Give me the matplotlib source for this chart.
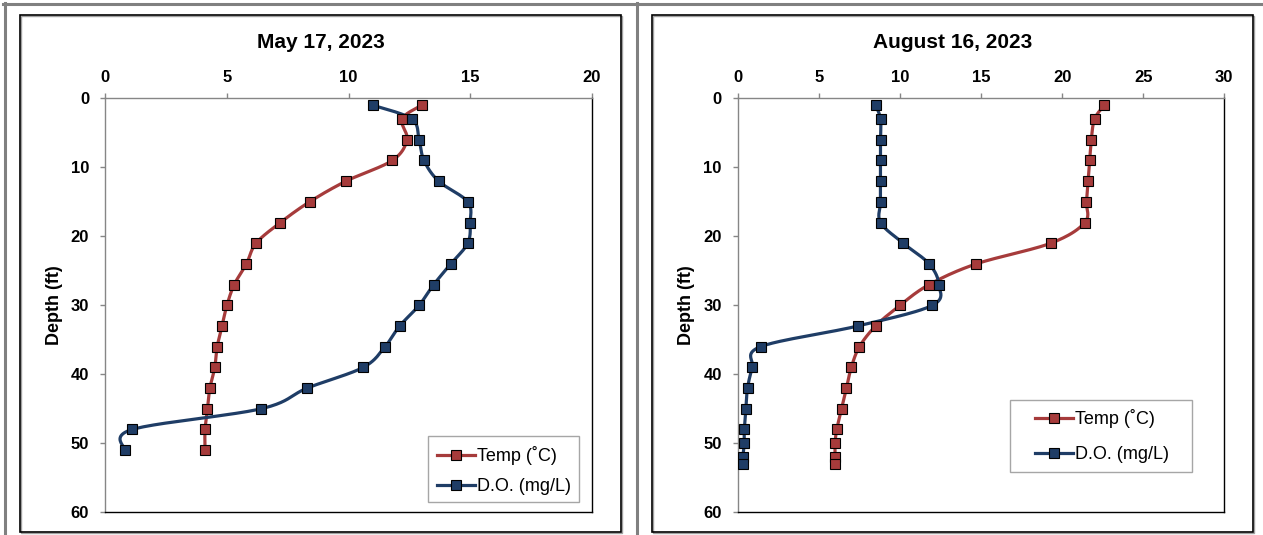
import numpy as np
import matplotlib
matplotlib.use("Agg")
import matplotlib.pyplot as plt
from matplotlib.patches import Rectangle
from matplotlib.lines import Line2D

plt.rcParams['font.family'] = ['Liberation Sans', 'DejaVu Sans']

# ---- profile data -------------------------------------------------------
may_depth = [1, 3, 6, 9, 12, 15, 18, 21, 24, 27, 30, 33, 36, 39, 42, 45, 48, 51]
may_temp = [13.0, 12.2, 12.4, 11.8, 9.9, 8.4, 7.2, 6.2, 5.8, 5.3, 5.0, 4.8, 4.6,
            4.5, 4.3, 4.2, 4.1, 4.1]
may_do = [11.0, 12.6, 12.9, 13.1, 13.7, 14.9, 15.0, 14.9, 14.2, 13.5, 12.9, 12.1,
          11.5, 10.6, 8.3, 6.4, 1.1, 0.8]

aug_depth = [1, 3, 6, 9, 12, 15, 18, 21, 24, 27, 30, 33, 36, 39, 42, 45, 48, 50, 52, 53]
aug_temp = [22.6, 22.0, 21.8, 21.7, 21.6, 21.5, 21.4, 19.3, 14.7, 11.8, 10.0, 8.5,
            7.5, 7.0, 6.7, 6.4, 6.1, 6.0, 6.0, 6.0]
aug_do = [8.5, 8.8, 8.8, 8.8, 8.8, 8.8, 8.8, 10.2, 11.8, 12.4, 12.0, 7.4, 1.4, 0.9,
          0.6, 0.5, 0.4, 0.4, 0.3, 0.3]

may_ticks = [0, 5, 10, 15, 20]
aug_ticks = [0, 5, 10, 15, 20, 25, 30]
depth_ticks = [0, 10, 20, 30, 40, 50, 60]

TEMP_COLOR = '#A63B3B'
DO_COLOR = '#1F3D66'
AXIS_GRAY = '#868686'

W, H = 1263, 535
fig = plt.figure(figsize=(W / 100, H / 100), dpi=100)


def px(x, y):
    """Pixel position (from top-left) to figure fraction."""
    return x / W, 1 - y / H


def smooth_curve(xs, ys, sx, sy, n=24):
    """Bezier smoothing through the points, computed in screen-like units."""
    p = np.column_stack([np.asarray(xs, float) * sx, np.asarray(ys, float) * sy])
    ext = np.vstack([p[0], p, p[-1]])
    out = [p[0]]
    t = np.linspace(0, 1, n)[1:, None]
    for i in range(1, len(ext) - 2):
        p0, p1 = ext[i], ext[i + 1]
        c1 = p0 + (ext[i + 1] - ext[i - 1]) / 6
        c2 = p1 - (ext[i + 2] - ext[i]) / 6
        seg = ((1 - t) ** 3) * p0 + 3 * ((1 - t) ** 2) * t * c1 + 3 * (1 - t) * t ** 2 * c2 + t ** 3 * p1
        out.extend(seg)
    out = np.array(out)
    return out[:, 0] / sx, out[:, 1] / sy


def frame(x0, y0, x1, y1, color, lw):
    fx0, fy1 = px(x0, y0)
    fx1, fy0 = px(x1, y1)
    fig.add_artist(Rectangle((fx0, fy0), fx1 - fx0, fy1 - fy0, transform=fig.transFigure,
                             fill=False, edgecolor=color, linewidth=lw))


def hline(x0, x1, y, color, lw):
    fig.add_artist(Line2D([x0 / W, x1 / W], [1 - y / H, 1 - y / H], transform=fig.transFigure,
                          color=color, linewidth=lw))


def vline(x, y0, y1, color, lw):
    fig.add_artist(Line2D([x / W, x / W], [1 - y0 / H, 1 - y1 / H], transform=fig.transFigure,
                          color=color, linewidth=lw))


# outer gray frame
hline(3, W, 4, '#808080', 2.2)
vline(4.5, 3, H, '#808080', 2.2)
vline(636.5, 3, H, '#808080', 2.2)

# chart-area borders with a faint shadow
for (x0, x1) in [(20, 621), (652, 1253)]:
    frame(x0 + 1, 16, x1 + 1, 532.5, '#A0A0A0', 1.0)
    frame(x0, 15, x1, 531.5, 'black', 1.2)


def panel(left_px, right_px, xmax, xticks, depth, temp, do, title, title_cx,
          leg_box, leg_rows, leg_pad):
    top_px, bot_px = 98.3, 512.3
    fx0, fy1 = px(left_px, top_px)
    fx1, fy0 = px(right_px, bot_px)
    ax = fig.add_axes([fx0, fy0, fx1 - fx0, fy1 - fy0])
    ax.set_xlim(0, xmax)
    ax.set_ylim(60, 0)
    sx = (right_px - left_px) / xmax
    sy = (bot_px - top_px) / 60.0

    for vals, color in [(temp, TEMP_COLOR), (do, DO_COLOR)]:
        cx, cy = smooth_curve(vals, depth, sx, sy)
        ax.plot(cx, cy, color=color, linewidth=2.3, solid_capstyle='round', zorder=2)
        ax.plot(vals, depth, linestyle='none', marker='s', markersize=6.6,
                markerfacecolor=color, markeredgecolor='black', markeredgewidth=0.8, zorder=3)

    ax.xaxis.tick_top()
    ax.set_xticks(xticks)
    ax.set_yticks(depth_ticks)
    ax.tick_params(axis='both', direction='out', length=3.6, width=1, color=AXIS_GRAY,
                   labelsize=12)
    ax.tick_params(axis='x', pad=6)
    ax.tick_params(axis='y', pad=8)
    for lab in ax.get_xticklabels() + ax.get_yticklabels():
        lab.set_fontweight('bold')
    ax.spines['top'].set_color(AXIS_GRAY)
    ax.spines['left'].set_color(AXIS_GRAY)
    ax.spines['right'].set_color('black')
    ax.spines['bottom'].set_color('black')
    for s in ax.spines.values():
        s.set_linewidth(1.0)

    tx, ty = px(title_cx, 42)
    fig.text(tx, ty, title, ha='center', va='center', fontsize=15, fontweight='bold')
    lx, ly = px(left_px - 51, (top_px + bot_px) / 2)
    fig.text(lx, ly, 'Depth (ft)', rotation=90, ha='center', va='center',
             fontsize=13, fontweight='bold')

    # legend box
    bx0, by0, bx1, by1 = leg_box
    fa, fb = px(bx0, by1)
    fc, fd = px(bx1, by0)
    fig.add_artist(Rectangle((fa, fb), fc - fa, fd - fb, transform=fig.transFigure,
                             facecolor='white', edgecolor='#A6A6A6', linewidth=1.0, zorder=5))
    handles = [Line2D([], [], color=c, linewidth=2.3, marker='s', markersize=6.6,
                      markerfacecolor=c, markeredgecolor='black', markeredgewidth=0.8)
               for c in (TEMP_COLOR, DO_COLOR)]
    cx, cy = px(bx0 + leg_pad, (leg_rows[0] + leg_rows[1]) / 2)
    fs = 13
    leg = fig.legend(handles, ['Temp (˚C)', 'D.O. (mg/L)'], loc='center left',
                     bbox_to_anchor=(cx, cy), bbox_transform=fig.transFigure,
                     frameon=False, fontsize=fs, numpoints=1, handlelength=2.1,
                     handletextpad=0.1,
                     labelspacing=(leg_rows[1] - leg_rows[0]) / (fs * 100 / 72) - 1.0,
                     borderpad=0, borderaxespad=0)
    leg.set_zorder(6)
    return ax


panel(105.3, 591.8, 20, may_ticks, may_depth, may_temp, may_do, 'May 17, 2023', 320.5,
      (428, 436, 579, 502), (455, 486), 9)
panel(737.8, 1224.3, 30, aug_ticks, aug_depth, aug_temp, aug_do, 'August 16, 2023', 952.5,
      (1010, 400, 1192, 472), (418, 454), 25)

fig.savefig('out.png', dpi=100)
